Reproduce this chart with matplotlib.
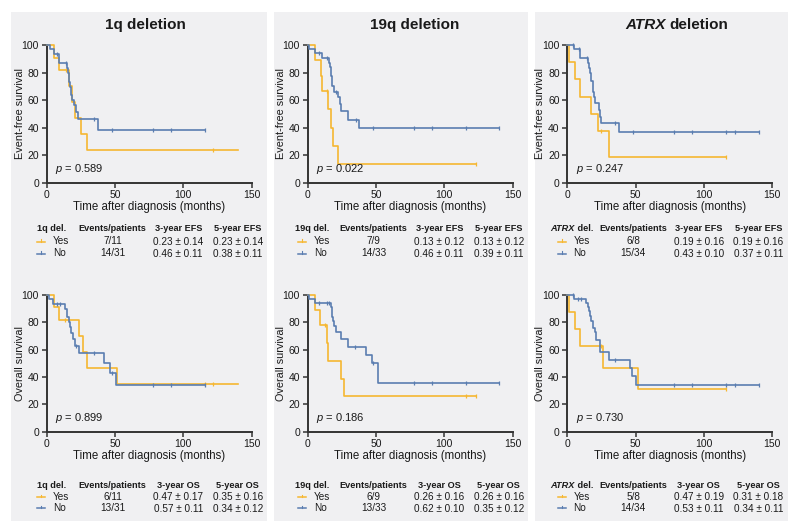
import numpy as np
import matplotlib
matplotlib.use("Agg")
import matplotlib.pyplot as plt
from matplotlib.patches import Rectangle

plt.rcParams['font.family'] = ['Liberation Sans', 'DejaVu Sans']
plt.rcParams['mathtext.fontset'] = 'custom'
plt.rcParams['mathtext.it'] = 'Liberation Sans:italic'
plt.rcParams['mathtext.rm'] = 'Liberation Sans'

ORANGE = '#F6B731'
BLUE = '#5A7DB0'
PANEL_BG = '#F0F0F2'
SPINE = '#333333'

# ---------------- data ----------------
# 1q deletion, EFS
efs_1q_yes_t = [0, 5.4, 9, 16.3, 18.3, 21, 25, 29.8]
efs_1q_yes_s = [100, 90.9, 81.8, 70.1, 58.4, 46.8, 35.1, 23.4]
efs_1q_yes_c = [14, 122]
efs_1q_yes_end = 140
efs_1q_no_t = [0, 2.5, 5, 9.3, 15, 15.8, 16.4, 17, 17.6, 18.3, 20, 21.5, 23, 37.8]
efs_1q_no_s = [100, 96.8, 93.5, 86.9, 83.4, 79.9, 73, 69.2, 64, 60, 56.2, 51, 46.2, 38.5]
efs_1q_no_c = [7.3, 14, 34.6, 48, 77.6, 91, 116]
efs_1q_no_end = 116
# 1q deletion, OS
os_1q_yes_t = [0, 5.4, 9, 23.7, 26.3, 29.8, 51.7]
os_1q_yes_s = [100, 90.9, 81.8, 70.1, 58.4, 46.8, 35.1]
os_1q_yes_c = [13.4, 115.6, 122]
os_1q_yes_end = 140
os_1q_no_t = [0, 2, 4.4, 13.5, 15, 16, 17, 18, 19.3, 20.5, 23.7, 42, 46.3, 51]
os_1q_no_s = [100, 96.8, 93.5, 90, 83.7, 80.2, 76.5, 72, 67.7, 62.5, 57.4, 50, 43, 34.4]
os_1q_no_c = [7.3, 9.8, 21.5, 34.6, 48, 78, 91, 116]
os_1q_no_end = 116

# 19q deletion, EFS
efs_19q_yes_t = [0, 5.3, 9.5, 10.2, 15, 17, 18.7, 22.4]
efs_19q_yes_s = [100, 88.9, 77.8, 66.7, 53.3, 40, 26.7, 13.3]
efs_19q_yes_c = [14, 123]
efs_19q_yes_end = 123
efs_19q_no_t = [0, 1, 5, 10.2, 15.8, 16.3, 16.7, 17, 17.5, 18, 19.5, 22.4, 23.6, 24.5, 29.7, 37.7]
efs_19q_no_s = [100, 97, 94, 90.5, 87, 84, 81, 77.8, 74, 70, 66, 62, 57, 52, 45.7, 39.4]
efs_19q_no_c = [8.5, 13.9, 21, 35, 48, 78, 91, 116, 140]
efs_19q_no_end = 140
# 19q deletion, OS
os_19q_yes_t = [0, 5.3, 9, 13.9, 15, 24.3, 26.5]
os_19q_yes_s = [100, 88.9, 77.8, 64.8, 51.8, 38.9, 25.9]
os_19q_yes_c = [13, 116, 123]
os_19q_yes_end = 123
os_19q_no_t = [0, 1, 5, 17, 17.5, 18, 18.5, 19.5, 20.5, 24, 29.7, 42.3, 46.7, 51.5]
os_19q_no_s = [100, 97, 94, 91, 88, 84, 81, 77, 72.7, 67.6, 61.7, 55.9, 50, 35.5]
os_19q_no_c = [8.5, 14, 15.5, 34.6, 48, 78, 91, 116, 140]
os_19q_no_end = 140

# ATRX deletion, EFS
efs_atrx_yes_t = [0, 1.2, 5.6, 9.3, 17.3, 22.2, 30.2]
efs_atrx_yes_s = [100, 87.5, 75, 62.5, 50, 37.5, 18.75]
efs_atrx_yes_c = [25, 116.4]
efs_atrx_yes_end = 116.4
efs_atrx_no_t = [0, 4.9, 9.3, 15.3, 16, 16.5, 17, 17.5, 18.5, 19.2, 20, 23, 24, 25, 37.5]
efs_atrx_no_s = [100, 97, 90.5, 87, 83, 80, 77, 73.6, 66, 62, 58, 53, 48, 43.5, 37.1]
efs_atrx_no_c = [3.9, 8.3, 14.6, 35, 48, 78, 91, 116, 123, 140]
efs_atrx_no_end = 140
# ATRX deletion, OS
os_atrx_yes_t = [0, 1.2, 5.6, 9.3, 26.3, 51.4]
os_atrx_yes_s = [100, 87.5, 75, 62.5, 46.9, 31.25]
os_atrx_yes_c = [25, 116.4]
os_atrx_yes_end = 116.4
os_atrx_no_t = [0, 4.9, 13.6, 15, 16, 16.5, 17.5, 19, 20, 21, 23.9, 30.4, 45.8, 47, 50.2]
os_atrx_no_s = [100, 97, 94, 91, 88, 85, 81, 76, 73, 67, 58, 52.5, 46.5, 41, 34]
os_atrx_no_c = [3.9, 8, 10, 35, 78, 91, 116, 123, 140]
os_atrx_no_end = 140

p_efs = ['0.589', '0.022', '0.247']
p_os = ['0.899', '0.186', '0.730']

tab_efs = [
    [['7/11', '0.23 ± 0.14', '0.23 ± 0.14'], ['14/31', '0.46 ± 0.11', '0.38 ± 0.11']],
    [['7/9', '0.13 ± 0.12', '0.13 ± 0.12'], ['14/33', '0.46 ± 0.11', '0.39 ± 0.11']],
    [['6/8', '0.19 ± 0.16', '0.19 ± 0.16'], ['15/34', '0.43 ± 0.10', '0.37 ± 0.11']],
]
tab_os = [
    [['6/11', '0.47 ± 0.17', '0.35 ± 0.16'], ['13/31', '0.57 ± 0.11', '0.34 ± 0.12']],
    [['6/9', '0.26 ± 0.16', '0.26 ± 0.16'], ['13/33', '0.62 ± 0.10', '0.35 ± 0.12']],
    [['5/8', '0.47 ± 0.19', '0.31 ± 0.18'], ['14/34', '0.53 ± 0.11', '0.34 ± 0.11']],
]
group_labels = ['Yes', 'No']
x_ticks = [0, 50, 100, 150]
y_ticks = [0, 20, 40, 60, 80, 100]

efs_data = [
    [(efs_1q_yes_t, efs_1q_yes_s, efs_1q_yes_c, efs_1q_yes_end), (efs_1q_no_t, efs_1q_no_s, efs_1q_no_c, efs_1q_no_end)],
    [(efs_19q_yes_t, efs_19q_yes_s, efs_19q_yes_c, efs_19q_yes_end), (efs_19q_no_t, efs_19q_no_s, efs_19q_no_c, efs_19q_no_end)],
    [(efs_atrx_yes_t, efs_atrx_yes_s, efs_atrx_yes_c, efs_atrx_yes_end), (efs_atrx_no_t, efs_atrx_no_s, efs_atrx_no_c, efs_atrx_no_end)],
]
os_data = [
    [(os_1q_yes_t, os_1q_yes_s, os_1q_yes_c, os_1q_yes_end), (os_1q_no_t, os_1q_no_s, os_1q_no_c, os_1q_no_end)],
    [(os_19q_yes_t, os_19q_yes_s, os_19q_yes_c, os_19q_yes_end), (os_19q_no_t, os_19q_no_s, os_19q_no_c, os_19q_no_end)],
    [(os_atrx_yes_t, os_atrx_yes_s, os_atrx_yes_c, os_atrx_yes_end), (os_atrx_no_t, os_atrx_no_s, os_atrx_no_c, os_atrx_no_end)],
]

# ---------------- layout ----------------
W, H = 800, 532
fig = plt.figure(figsize=(8, 5.32), dpi=100)
fig.patch.set_facecolor('white')


def fx(x):
    return x / W


def fy(y):
    return 1 - y / H


def ftext(x, y, s, **kw):
    kw.setdefault('ha', 'center')
    kw.setdefault('va', 'center')
    kw.setdefault('color', '#1a1a1a')
    return fig.text(fx(x), fy(y), s, **kw)


panels = [(11, 267), (274, 528), (535, 788)]
ax_left = [46.7, 307.7, 567.3]
ax_w = 205.0
top_y = (45, 182.7)
bot_y = (295, 431.7)
title_x = [145, 415, 676]
del_names = ['1q', '19q', 'ATRX']
HFS = 6.6   # table header font size
RFS = 7.2   # table row font size

for (x0, x1) in panels:
    fig.patches.append(Rectangle((fx(x0), fy(521)), fx(x1 - x0), (521 - 12) / H,
                                 transform=fig.transFigure, facecolor=PANEL_BG,
                                 edgecolor='none', zorder=-5))


def km(ax, t, s, cens, end, color):
    tt = list(t) + [end]
    ss = list(s) + [s[-1]]
    ax.step(tt, ss, where='post', color=color, lw=1.2, clip_on=False, zorder=3)
    t_arr = np.asarray(t)
    cy = [s[np.searchsorted(t_arr, c, side='right') - 1] for c in cens]
    ax.plot(cens, cy, ls='none', marker='|', ms=3.5, mew=0.9, color=color,
            clip_on=False, zorder=3)


def make_ax(left, ytop, ybot):
    ax = fig.add_axes([fx(left), fy(ybot), ax_w / W, (ybot - ytop) / H])
    ax.set_facecolor('none')
    ax.set_xlim(0, 150)
    ax.set_ylim(0, 100)
    for sp in ['top', 'right']:
        ax.spines[sp].set_visible(False)
    for sp in ['left', 'bottom']:
        ax.spines[sp].set_color(SPINE)
        ax.spines[sp].set_linewidth(1.4)
    ax.set_xticks(x_ticks)
    ax.set_yticks(y_ticks)
    ax.tick_params(direction='out', length=3.5, width=1.1, color=SPINE,
                   labelsize=7.5, labelcolor='#1a1a1a', pad=2)
    return ax


def draw_table(i, y_head, y_yes, y_no, endpoint, rows):
    L = ax_left[i]
    cols = [L + 4.5, L + 66, L + 131.5, L + 191]
    if i == 2:
        ftext(cols[0] + 3, y_head, 'ATRX', fontsize=HFS, fontweight='bold',
              fontstyle='italic', ha='right')
        ftext(cols[0] + 3, y_head, ' del.', fontsize=HFS, fontweight='bold', ha='left')
    else:
        ftext(cols[0], y_head, f'{del_names[i]} del.', fontsize=HFS, fontweight='bold')
    ftext(cols[1], y_head, 'Events/patients', fontsize=HFS, fontweight='bold')
    ftext(cols[2], y_head, f'3-year {endpoint}', fontsize=HFS, fontweight='bold')
    ftext(cols[3], y_head, f'5-year {endpoint}', fontsize=HFS, fontweight='bold')
    for r, (yy, col) in enumerate([(y_yes, ORANGE), (y_no, BLUE)]):
        fig.add_artist(plt.Line2D([fx(L - 9.5), fx(L - 1.5)], [fy(yy), fy(yy)],
                                  transform=fig.transFigure, color=col, lw=1.1))
        fig.add_artist(plt.Line2D([fx(L - 5.5), fx(L - 5.5)], [fy(yy), fy(yy - 2.5)],
                                  transform=fig.transFigure, color=col, lw=0.8))
        ftext(L + 6, yy, group_labels[r], fontsize=RFS, ha='left')
        ftext(cols[1], yy, rows[r][0], fontsize=RFS)
        ftext(cols[2], yy + 0.5, rows[r][1], fontsize=RFS)
        ftext(cols[3], yy + 0.5, rows[r][2], fontsize=RFS)


for i in range(3):
    L = ax_left[i]
    # titles
    if i == 2:
        ftext(title_x[i] - 10, 25, 'ATRX', fontsize=11, fontweight='bold',
              fontstyle='italic', ha='right')
        ftext(title_x[i] - 7, 25, 'deletion', fontsize=11, fontweight='bold', ha='left')
    else:
        ftext(title_x[i], 25, f'{del_names[i]} deletion', fontsize=11, fontweight='bold')

    for (ytop, ybot), data, pv, ylab, tab, endpoint, ys in [
        (top_y, efs_data[i], p_efs[i], 'Event-free survival', tab_efs[i], 'EFS', (228.5, 241.5, 253.5)),
        (bot_y, os_data[i], p_os[i], 'Overall survival', tab_os[i], 'OS', (485.5, 497, 508)),
    ]:
        ax = make_ax(L, ytop, ybot)
        km(ax, *data[0], ORANGE)
        km(ax, *data[1], BLUE)
        ax.text(0.04, 0.05, r'$p$' + f' = {pv}', transform=ax.transAxes,
                fontsize=8, ha='left', va='bottom', color='#1a1a1a')
        ftext(L - 27, (ytop + ybot) / 2, ylab, fontsize=7.8, rotation=90)
        ftext(L + ax_w / 2, ybot + 24, 'Time after diagnosis (months)', fontsize=8.3)
        draw_table(i, ys[0], ys[1], ys[2], endpoint, tab)

fig.savefig('out.png', dpi=100)
